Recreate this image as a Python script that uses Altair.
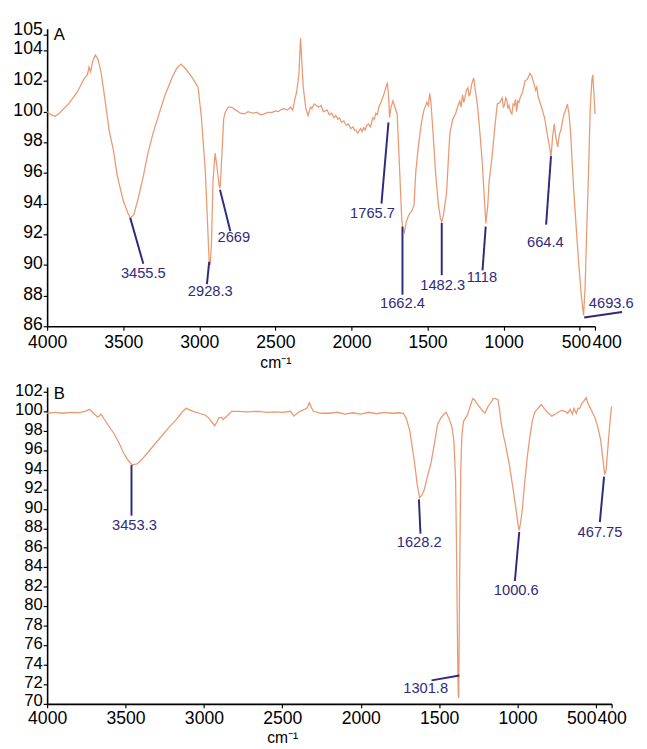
import altair as alt
import pandas as pd

# ---------------- data: panel A spectrum (wavenumber, %T) ----------------
a_wn = [4000, 3975, 3947, 3920, 3890, 3860, 3830, 3800, 3775, 3754, 3735, 3725, 3715, 3700, 3683, 3665,
        3646, 3620, 3593, 3565, 3539, 3500, 3470, 3453, 3430, 3400, 3368, 3340, 3304, 3260, 3228,
        3180, 3150, 3121, 3090, 3046, 3008, 2986, 2960, 2945, 2935, 2928, 2920, 2910, 2896, 2885,
        2870, 2864, 2855, 2840, 2832, 2810, 2789, 2760, 2730, 2703, 2680, 2650, 2620, 2600, 2574,
        2550, 2520, 2500, 2480, 2460, 2446, 2420, 2400, 2386, 2370, 2360, 2345, 2335, 2325, 2317,
        2300, 2285, 2270, 2260, 2245, 2232, 2215, 2200, 2185, 2160, 2145, 2130, 2115, 2103, 2090,
        2080, 2065, 2050, 2035, 2020, 2005, 1990, 1980, 1970, 1960, 1953, 1940, 1930, 1920, 1910,
        1900, 1889, 1875, 1860, 1850, 1840, 1830, 1820, 1803, 1785, 1764, 1755, 1750, 1740, 1728,
        1715, 1700, 1685, 1670, 1662, 1653, 1640, 1630, 1621, 1605, 1589, 1578, 1560, 1540, 1524,
        1505, 1495, 1486, 1478, 1471, 1460, 1449, 1430, 1415, 1407, 1395, 1375, 1360, 1353, 1335,
        1315, 1300, 1288, 1280, 1270, 1262, 1255, 1245, 1235, 1228, 1220, 1210, 1197, 1185, 1171,
        1155, 1139, 1128, 1117, 1105, 1096, 1085, 1074, 1058, 1042, 1025, 1010, 1002, 995, 987,
        980, 972, 965, 955, 946, 938, 930, 922, 915, 907, 900, 892, 875, 860, 845, 836, 828, 815,
        800, 790, 782, 774, 755, 740, 731, 715, 699, 689, 678, 667, 657, 645, 634, 624, 613, 603,
        590, 581, 570, 560, 550, 539, 523, 507, 490, 475, 465, 453, 441, 431, 420, 414, 406, 400]
a_t = [100.0, 99.8, 99.7, 99.9, 100.2, 100.5, 100.9, 101.3, 101.8, 102.2, 102.4, 102.9, 102.6, 103.3, 103.7, 103.4,
       102.6, 100.8, 98.8, 97.5, 95.8, 94.2, 93.4, 93.05, 93.3, 94.4, 95.8, 97.2, 98.6, 100.0, 101.0,
       102.2, 102.8, 103.1, 102.8, 102.2, 101.6, 99.6, 96.0, 92.5, 90.2, 90.0, 91.5, 95.5, 97.3, 96.5,
       95.2, 95.0, 96.5, 99.5, 99.9, 100.3, 100.3, 100.1, 99.9, 99.85, 100.0, 99.9, 99.95, 99.8, 99.85,
       99.95, 99.95, 100.05, 100.0, 100.15, 100.2, 100.1, 100.3, 100.1, 100.9, 101.3, 102.5, 104.8, 103.0, 101.6,
       100.2, 99.75, 100.3, 100.2, 100.5, 100.4, 100.3, 100.4, 100.0, 100.1, 99.8, 99.9, 99.6, 99.75, 99.5,
       99.6, 99.3, 99.4, 99.1, 99.2, 98.9, 99.0, 98.8, 98.8, 98.6, 98.7, 98.9, 98.7, 98.95, 98.8,
       99.1, 99.2, 99.0, 99.6, 99.5, 99.9, 99.8, 100.3, 100.7, 101.2, 101.9, 100.8, 99.6, 100.3, 100.7,
       100.3, 99.85, 96.5, 93.0, 92.3, 92.1, 92.8, 93.1, 93.3, 93.5, 93.9, 96.0, 97.8, 99.3, 100.1,
       100.6, 100.4, 101.2, 100.6, 99.6, 98.0, 96.2, 94.0, 93.0, 92.8, 93.3, 94.75, 97.5, 98.6, 99.5,
       99.9, 100.4, 100.7, 100.3, 101.1, 100.6, 100.9, 101.4, 101.55, 101.0, 101.2, 101.8, 102.2, 101.3, 100.3,
       98.5, 96.45, 94.5, 92.7, 93.8, 95.4, 96.3, 97.3, 99.0, 100.5, 100.6, 100.9, 100.3, 100.4, 100.9,
       100.8, 100.2, 100.4, 100.0, 99.85, 100.5, 100.4, 100.8, 100.0, 100.7, 100.6, 100.9, 101.3, 102.0, 102.1, 102.3, 102.5, 102.3,
       101.8, 101.4, 101.6, 101.0, 100.4, 99.9, 99.6, 98.6, 97.7, 97.1, 98.4, 99.2, 98.3, 97.7, 98.5, 98.8, 99.4, 99.85,
       100.2, 100.5, 99.8, 98.6, 96.7, 94.75, 92.4, 90.1, 88.0, 86.7, 88.5, 92.6, 96.5, 100.3, 102.1, 102.4, 101.0, 99.85]

# ---------------- data: panel B spectrum ----------------
b_wn = [4000, 3950, 3900, 3850, 3800, 3760, 3729, 3698, 3677, 3656, 3620, 3573, 3540, 3510, 3480, 3458,
        3427, 3400, 3364, 3310, 3260, 3220, 3177, 3140, 3114, 3070, 3031, 2990, 2969, 2945, 2931,
        2918, 2906, 2890, 2878, 2854, 2823, 2780, 2720, 2650, 2600, 2550, 2500, 2448, 2427, 2405,
        2386, 2344, 2327, 2315, 2302, 2250, 2200, 2150, 2100, 2050, 2000, 1950, 1900, 1850, 1800,
        1760, 1729, 1710, 1687, 1656, 1640, 1625, 1610, 1594, 1570, 1552, 1530, 1510, 1490, 1469,
        1455, 1438, 1420, 1406, 1395, 1388, 1382, 1378, 1375, 1372, 1368, 1362, 1355, 1344, 1320,
        1300, 1286, 1275, 1260, 1240, 1220, 1208, 1188, 1170, 1156, 1140, 1125, 1115, 1104, 1090,
        1073, 1050, 1031, 1010, 995, 990, 980, 969, 955, 938, 922, 906, 890, 870, 848, 830,
        810, 795, 781, 760, 740, 720, 698, 680, 665, 650, 640, 625, 615, 604, 590, 575, 562,
        550, 535, 520, 510, 490, 469, 455, 444, 435, 427, 415, 406, 400]
b_t = [99.8, 99.9, 99.8, 99.9, 99.85, 100.0, 100.2, 99.7, 99.4, 99.7, 98.8, 97.7, 96.7, 95.65, 94.9, 94.5,
       94.6, 95.0, 95.65, 96.7, 97.65, 98.4, 99.15, 99.9, 100.3, 100.0, 99.8, 99.6, 99.3, 98.8, 98.5,
       98.9, 99.3, 99.4, 99.15, 99.5, 100.0, 100.0, 99.95, 100.0, 99.9, 99.95, 99.9, 100.0, 99.5, 99.8,
       100.0, 100.3, 100.9, 100.4, 100.0, 99.8, 99.8, 99.9, 99.7, 99.85, 99.7, 99.9, 99.75, 99.9, 99.8,
       99.85, 99.8, 99.3, 98.0, 94.65, 92.5, 91.15, 91.4, 92.0, 93.6, 94.65, 96.7, 98.65, 99.3, 99.7,
       99.9, 99.3, 98.5, 97.0, 93.0, 84.6, 75.0, 70.9, 70.6, 77.0, 85.0, 94.0, 97.5, 99.0, 99.6,
       100.6, 101.3, 101.2, 100.8, 100.4, 100.0, 99.8, 100.5, 100.9, 101.3, 101.3, 101.2, 100.2, 98.8, 97.5,
       96.3, 94.3, 92.3, 90.0, 88.2, 87.8, 88.6, 90.0, 92.6, 95.3, 97.3, 99.0, 99.9, 100.3, 100.7, 100.3,
       99.9, 99.7, 99.5, 99.7, 99.9, 100.1, 100.0, 99.8, 100.2, 99.7, 100.3, 99.8, 100.3, 100.3, 100.8, 101.1, 101.4,
       100.8, 100.3, 99.8, 99.5, 98.5, 97.0, 95.0, 93.5, 94.0, 95.65, 98.0, 99.65, 100.5]

# ---------------- peak annotations ----------------
a_labels = ["3455.5", "2928.3", "2669", "1765.7", "1662.4", "1482.3", "1118", "664.4", "4693.6"]
a_peak_wn = [3454, 2935, 2864, 1757, 1665, 1407, 1118, 689, 471]
a_peak_t = [93.07, 90.2, 94.9, 99.3, 92.5, 92.74, 92.5, 97.1, 86.57]
a_end_wn = [3368, 2950, 2796, 1803, 1665, 1407, 1139, 721, 222]
a_end_t = [90.08, 88.75, 92.2, 94.0, 88.06, 89.33, 89.65, 92.63, 86.93]
a_lab_wn = [3368, 2928, 2773, 1862, 1665, 1401, 1143, 726, 293]
a_lab_t = [89.44, 88.32, 91.81, 93.37, 87.5, 88.7, 89.2, 91.49, 87.53]

b_labels = ["3453.3", "1628.2", "1000.6", "1301.8", "467.75"]
b_peak_wn = [3462, 1629, 989, 1371, 448]
b_peak_t = [94.48, 90.97, 87.63, 72.91, 93.31]
b_end_wn = [3462, 1619, 1017, 1548, 475]
b_end_t = [89.3, 87.46, 82.6, 72.41, 88.63]
b_lab_wn = [3443, 1627, 1008, 1586, 474]
b_lab_t = [88.38, 86.6, 81.64, 71.58, 87.66]

x_ticks = [4000, 3500, 3000, 2500, 2000, 1500, 1000, 500, 400]
a_y_ticks = [86, 88, 90, 92, 94, 96, 98, 100, 102, 104, 105]
b_y_ticks = [70, 72, 74, 76, 78, 80, 82, 84, 86, 88, 90, 92, 94, 96, 98, 100, 102]
panel_letters = ["A", "B"]

SPEC = "#EA9A73"
NAVY = "#2F2A7C"
FONT = "Liberation Sans"


def panel(wn, t, labels, pwn, pt, ewn, et, lwn, lt, y_domain, y_ticks, width, height,
          letter, letter_y, title_x, title_y, x_align, x_offset, y_offset, x_pad, y_font):
    xs = alt.Scale(domain=[4000, 400], nice=False, zero=False)
    ys = alt.Scale(domain=y_domain, nice=False, zero=False)
    xax = alt.Axis(values=x_ticks, format="d", title="cm⁻¹", titleX=title_x, titleY=title_y,
                   titleBaseline="alphabetic", titleAlign="center",
                   labelAlign=x_align, labelOffset=x_offset, labelPadding=x_pad)
    yax = alt.Axis(values=y_ticks, format="d", title=None, labelOffset=y_offset,
                   labelFontSize=y_font)

    spec = pd.DataFrame({"wn": wn, "t": t})
    ann = pd.DataFrame({"label": labels, "wn1": pwn, "t1": pt, "wn2": ewn, "t2": et,
                        "wnl": lwn, "tl": lt})

    line = alt.Chart(spec).mark_line(color=SPEC, strokeWidth=1.3).encode(
        x=alt.X("wn:Q", scale=xs, axis=xax),
        y=alt.Y("t:Q", scale=ys, axis=yax),
    )
    rules = alt.Chart(ann).mark_rule(color=NAVY, strokeWidth=2).encode(
        x=alt.X("wn1:Q", scale=xs, axis=xax),
        y=alt.Y("t1:Q", scale=ys, axis=yax),
        x2="wn2:Q",
        y2="t2:Q",
    )
    texts = alt.Chart(ann).mark_text(color=NAVY, fontSize=15, font=FONT,
                                     align="center", baseline="middle").encode(
        x=alt.X("wnl:Q", scale=xs, axis=xax),
        y=alt.Y("tl:Q", scale=ys, axis=yax),
        text="label:N",
    )
    let = alt.Chart(pd.DataFrame({"p": [letter]})).mark_text(
        fontSize=17, font=FONT, color="black", align="center", baseline="middle").encode(
        x=alt.value(12.5), y=alt.value(letter_y), text="p:N")
    return alt.layer(line, rules, texts, let).properties(width=width, height=height)


a_x_align = {"condition": {"test": "datum.value == 400", "value": "left"}, "value": "center"}
a_x_off = {"condition": [{"test": "datum.value == 400", "value": -3},
                         {"test": "datum.value == 500", "value": -4}], "value": 0}
a_y_off = {"condition": {"test": "datum.value == 105", "value": -5}, "value": -1.5}
b_x_align = {"condition": [{"test": "datum.value == 400", "value": "left"},
                           {"test": "datum.value == 500", "value": "right"}], "value": "center"}
b_x_off = {"condition": {"test": "datum.value == 400", "value": -15}, "value": 0}
b_y_off = {"condition": {"test": "datum.value == 70", "value": -3.5}, "value": -1.5}

A = panel(a_wn, a_t, a_labels, a_peak_wn, a_peak_t, a_end_wn, a_end_t, a_lab_wn, a_lab_t,
          [86, 105.4], a_y_ticks, 560, 304, panel_letters[0], 6, 233.3, 42,
          a_x_align, a_x_off, a_y_off, 4, 18)
B = panel(b_wn, b_t, b_labels, b_peak_wn, b_peak_t, b_end_wn, b_end_t, b_lab_wn, b_lab_t,
          [70, 102.5], b_y_ticks, 577, 324, panel_letters[1], 7.5, 240.4, 39,
          b_x_align, b_x_off, b_y_off, 2, 17)

chart = alt.vconcat(A, B, spacing=62, bounds="flush").properties(
    padding={"left": 4, "top": 5, "right": 5, "bottom": 5},
    background="white",
).configure_view(stroke=None).configure_axis(
    labelFont=FONT, labelFontSize=18, labelColor="black",
    titleFont=FONT, titleFontSize=16, titleFontWeight="normal", titleColor="black",
    domainColor="black", domainWidth=1.6, tickColor="black", tickWidth=1.2, tickSize=4,
    grid=False, labelOverlap=False, labelFlush=False,
).configure_axisY(labelPadding=1)

chart.save("out.html", embed_options={"renderer": "svg", "actions": False})
